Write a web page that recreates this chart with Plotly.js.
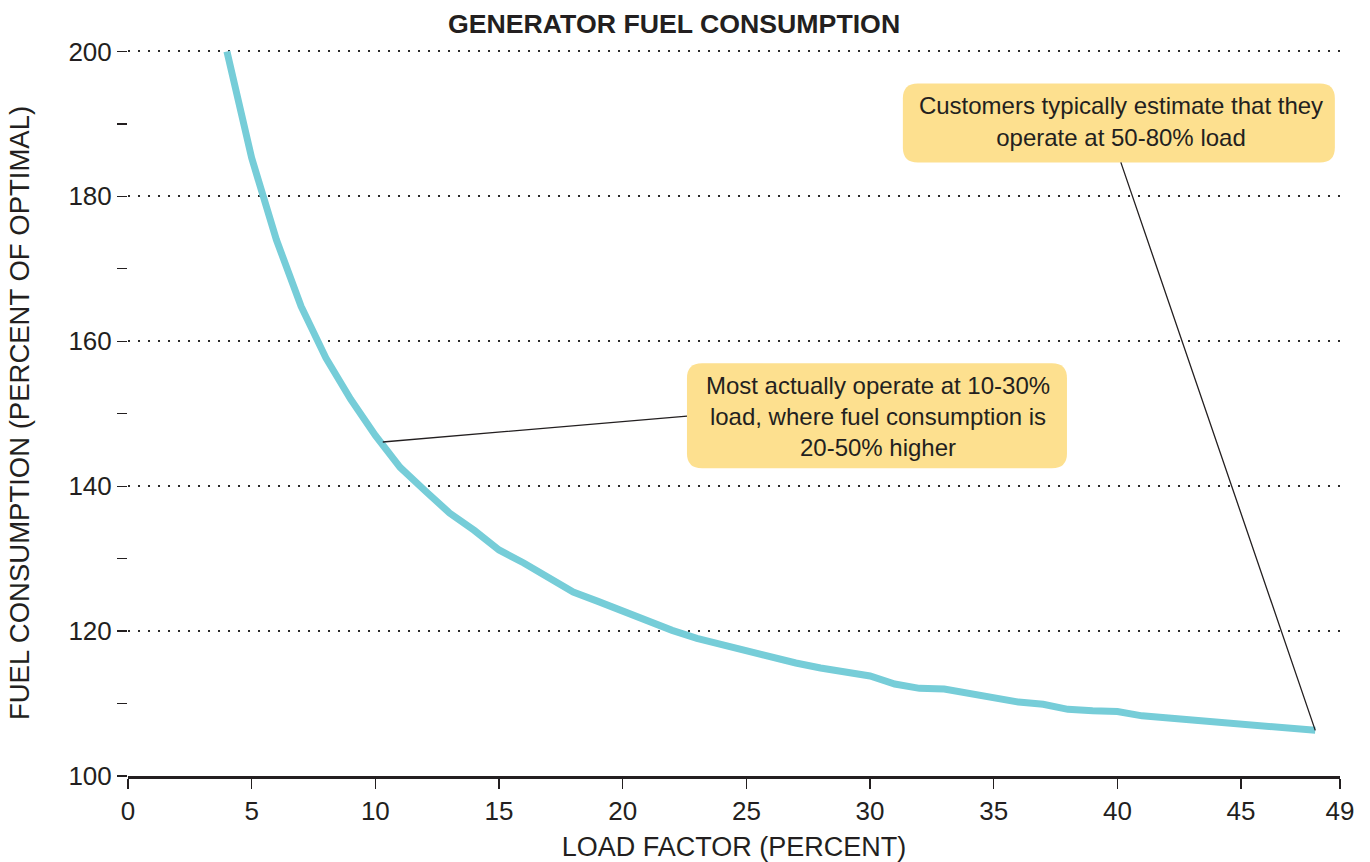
<!DOCTYPE html>
<html>
<head>
<meta charset="utf-8">
<script src="https://cdn.plot.ly/plotly-3.0.1.min.js"></script>
<style>
html,body{margin:0;padding:0;background:#fff;}
#chart{width:1370px;height:862px;}
</style>
</head>
<body>
<div id="chart"></div>
<script>
// Data
const loadFactor = [4,5,6,7,8,9,10,11,12,13,14,15,16,17,18,19,20,21,22,23,24,25,26,27,28,29,30,31,32,33,34,35,36,37,38,39,40,41,42,43,44,45,46,47,48];
const fuelConsumption = [200,185.3,174,164.8,157.7,152,147,142.6,139.4,136.3,133.9,131.2,129.4,127.3,125.4,124.1,122.7,121.3,120.1,119.0,118.1,117.3,116.5,115.6,114.9,114.3,113.8,112.7,112.1,112.0,111.4,110.8,110.2,109.9,109.2,109.0,108.9,108.3,108.0,107.7,107.4,107.2,106.9,106.6,106.3];
const xTickVals = [0,5,10,15,20,25,30,35,40,45,49];
const xTickText = ['0','5','10','15','20','25','30','35','40','45','49'];
const note1 = 'Most actually operate at 10-30%<br>load, where fuel consumption is<br>20-50% higher';
const note2 = 'Customers typically estimate that they<br>operate at 50-80% load';

const ink = '#231f20';
const font = 'Liberation Sans, Arial, Helvetica, sans-serif';

function roundRect(w, h, r) {
  const a = w/2, b = h/2;
  return `M ${-a+r},${-b} L ${a-r},${-b} Q ${a},${-b} ${a},${-b+r} L ${a},${b-r} Q ${a},${b} ${a-r},${b} L ${-a+r},${b} Q ${-a},${b} ${-a},${b-r} L ${-a},${-b+r} Q ${-a},${-b} ${-a+r},${-b} Z`;
}

const trace = {
  x: loadFactor,
  y: fuelConsumption,
  type: 'scatter',
  mode: 'lines',
  line: {color: 'rgb(118,205,216)', width: 7},
  hoverinfo: 'x+y',
  cliponaxis: false
};

const layout = {
  width: 1370,
  height: 862,
  paper_bgcolor: '#fff',
  plot_bgcolor: '#fff',
  margin: {l: 128, r: 30, t: 50, b: 86},
  showlegend: false,
  font: {family: font, size: 26, color: ink},
  title: {
    text: 'GENERATOR FUEL CONSUMPTION',
    font: {family: font, size: 26.7, color: ink, weight: 700},
    x: 0.492, xref: 'container', xanchor: 'center',
    y: 0.972, yref: 'container', yanchor: 'middle'
  },
  xaxis: {
    range: [0, 49],
    tickvals: xTickVals,
    ticktext: xTickText,
    ticks: 'outside',
    ticklen: 10,
    tickwidth: 1.5,
    tickcolor: ink,
    showline: true,
    linewidth: 2.5,
    linecolor: ink,
    showgrid: false,
    zeroline: false,
    tickfont: {family: font, size: 26, color: ink},
    title: {text: 'LOAD FACTOR (PERCENT)', font: {family: font, size: 27, color: ink}, standoff: 16}
  },
  yaxis: {
    range: [100, 200.2],
    tick0: 100,
    dtick: 20,
    ticks: 'outside',
    ticklen: 10,
    tickwidth: 1.3,
    tickcolor: ink,
    showline: false,
    zeroline: false,
    showgrid: true,
    gridcolor: '#2b2b2b',
    gridwidth: 2,
    griddash: '2px,8px',
    minor: {dtick: 10, tick0: 100, ticks: 'outside', ticklen: 10, tickwidth: 1.3, tickcolor: ink, showgrid: false},
    tickfont: {family: font, size: 26, color: ink},
    title: {text: 'FUEL CONSUMPTION (PERCENT OF OPTIMAL)', font: {family: font, size: 27.5, color: ink}, standoff: 30}
  },
  shapes: [
    {type: 'path', xref: 'x', yref: 'y', xsizemode: 'pixel', ysizemode: 'pixel',
     xanchor: 30.28, yanchor: 149.72, path: roundRect(380, 105, 15),
     fillcolor: '#fde08f', line: {width: 0}, layer: 'above'},
    {type: 'path', xref: 'x', yref: 'y', xsizemode: 'pixel', ysizemode: 'pixel',
     xanchor: 40.06, yanchor: 190.14, path: roundRect(432, 79, 15),
     fillcolor: '#fde08f', line: {width: 0}, layer: 'above'}
  ],
  annotations: [
    {x: 10.3, y: 146.1, xref: 'x', yref: 'y', ax: 22.6, ay: 149.66, axref: 'x', ayref: 'y',
     text: note1, showarrow: true, arrowhead: 0, arrowwidth: 1.3, arrowcolor: ink,
     xanchor: 'left', yanchor: 'middle', align: 'center', width: 380, height: 105, borderpad: 0,
     font: {family: font, size: 24, color: ink}},
    {x: 48, y: 106.3, xref: 'x', yref: 'y', ax: 40.14, ay: 184.69, axref: 'x', ayref: 'y',
     text: note2, showarrow: true, arrowhead: 0, arrowwidth: 1.3, arrowcolor: ink,
     xanchor: 'center', yanchor: 'bottom', align: 'center', width: 432, height: 79, borderpad: 0,
     font: {family: font, size: 24, color: ink}}
  ]
};

Plotly.newPlot('chart', [trace], layout, {displayModeBar: false, staticPlot: true});
</script>
</body>
</html>
